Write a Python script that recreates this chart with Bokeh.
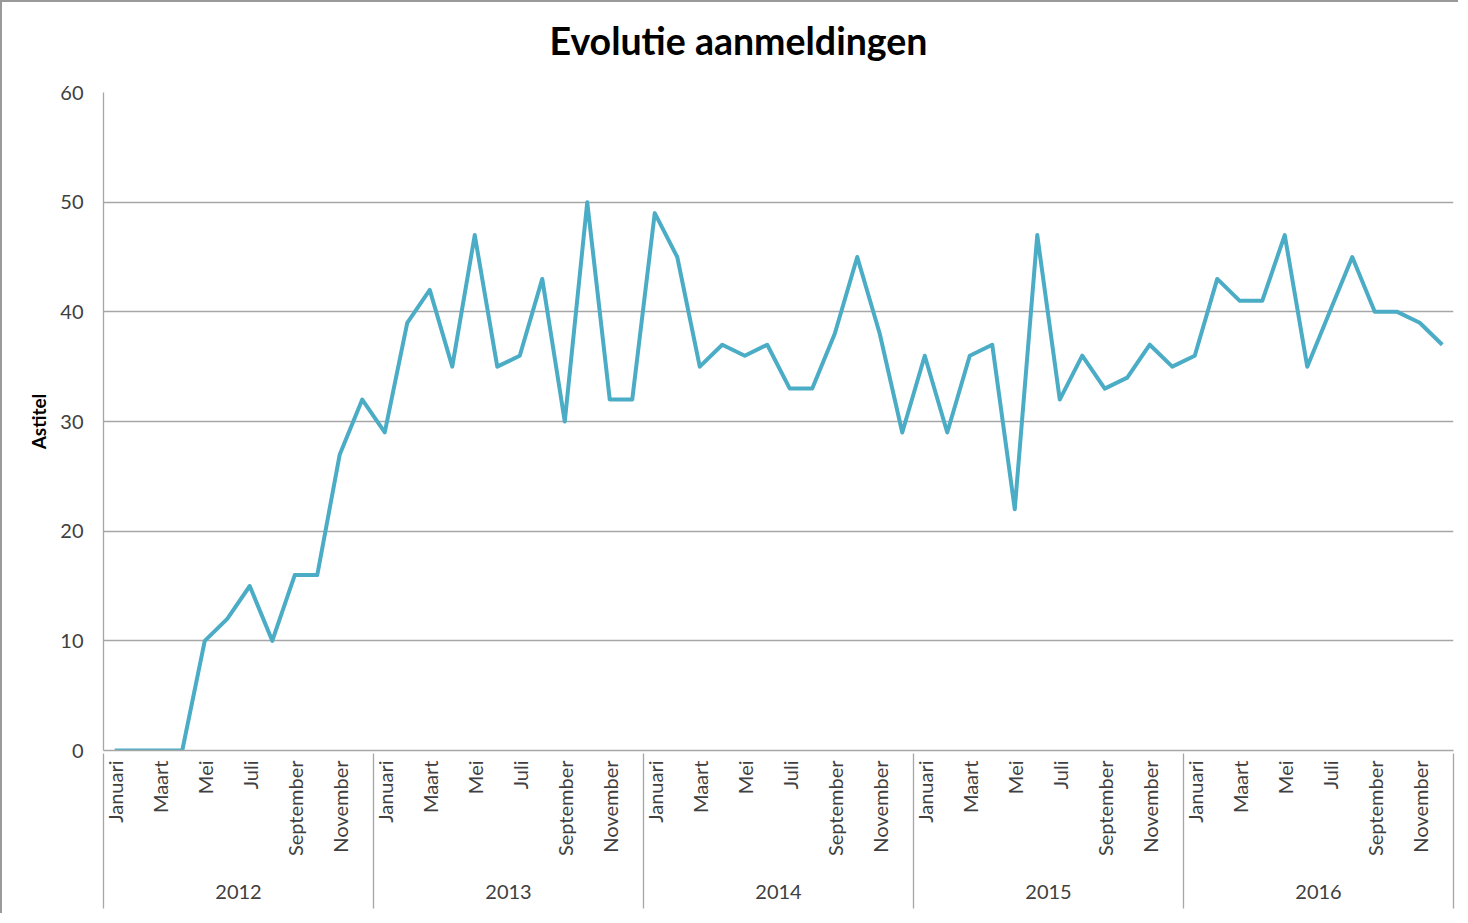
import math
from bokeh.plotting import figure
from bokeh.models import Range1d, FixedTicker, LinearAxis, Title
from bokeh.embed import file_html
from bokeh.resources import INLINE

# ---- data ----
years = ["2012", "2013", "2014", "2015", "2016"]
month_tick_labels = ["Januari", "Maart", "Mei", "Juli", "September", "November"]
values_2012 = [0, 0, 0, 0, 10, 12, 15, 10, 16, 16, 27, 32]
values_2013 = [29, 39, 42, 35, 47, 35, 36, 43, 30, 50, 32, 32]
values_2014 = [49, 45, 35, 37, 36, 37, 33, 33, 38, 45, 38, 29]
values_2015 = [36, 29, 36, 37, 22, 47, 32, 36, 33, 34, 37, 35]
values_2016 = [36, 43, 41, 41, 47, 35, 40, 45, 40, 40, 39, 37]
y_ticks = [0, 10, 20, 30, 40, 50, 60]
title_text = "Evolutie aanmeldingen"

values = values_2012 + values_2013 + values_2014 + values_2015 + values_2016
xs = list(range(len(values)))
n_years = len(years)

FONT = "Lato"
GRID = "#a6a6a6"
TXT = "#404040"

W, H = 1458, 913
BL, BR, BT, BB = 101, 7, 90, 165

p = figure(width=W, height=H, output_backend="svg", toolbar_location=None,
           x_range=Range1d(-0.5, len(values) - 0.5), y_range=Range1d(0, 60),
           x_axis_type=None, min_border_left=BL, min_border_right=BR,
           min_border_top=BT, min_border_bottom=BB)
p.styles = {"border-top": "2px solid #9a9a9a", "border-left": "2px solid #9a9a9a"}
p.outline_line_color = None
p.background_fill_color = "white"
p.border_fill_color = "white"

# invisible spacer axis above the frame (keeps the title away from the plot area)
spacer = LinearAxis(ticker=FixedTicker(ticks=[0]), major_label_overrides={0: ""})
spacer.axis_line_color = None
spacer.major_tick_line_color = None
spacer.minor_tick_line_color = None
spacer.major_tick_out = 30
spacer.major_tick_in = 0
spacer.minor_tick_out = 0
spacer.minor_tick_in = 0
spacer.major_label_standoff = 0
spacer.major_label_text_font_size = "1px"
spacer.major_label_text_alpha = 0
p.add_layout(spacer, "above")

# title
p.add_layout(Title(text=title_text, align="left", offset=446, standoff=0,
                   text_font=FONT, text_font_size="37.5px", text_font_style="bold",
                   text_color="#000000"), "above")

# y axis
ya = p.yaxis[0]
ya.ticker = FixedTicker(ticks=y_ticks)
ya.axis_line_color = GRID
ya.axis_line_width = 1.3
ya.major_tick_out = 0
ya.major_tick_in = 0
ya.minor_tick_out = 0
ya.minor_tick_in = 0
ya.major_label_standoff = 20
ya.major_label_text_font = FONT
ya.major_label_text_font_size = "20px"
ya.major_label_text_color = TXT
ya.axis_label = "Astitel"
ya.axis_label_text_font = FONT
ya.axis_label_text_font_size = "19px"
ya.axis_label_text_font_style = "bold"
ya.axis_label_text_color = "#000000"
ya.axis_label_standoff = 7

p.ygrid.ticker = FixedTicker(ticks=y_ticks)
p.ygrid.grid_line_color = GRID
p.ygrid.grid_line_width = 1.3
p.xgrid.grid_line_color = None

# month axis
month_ticks = [yi * 12 + mi * 2 for yi in range(n_years) for mi in range(len(month_tick_labels))]
month_over = {t: month_tick_labels[(t % 12) // 2] for t in month_ticks}
ma = LinearAxis(ticker=FixedTicker(ticks=month_ticks), major_label_overrides=month_over)
ma.major_label_orientation = math.pi / 2
ma.major_label_standoff = 10
ma.major_label_text_font = FONT
ma.major_label_text_font_size = "20px"
ma.major_label_text_color = TXT
ma.axis_line_color = GRID
ma.axis_line_width = 1.3
ma.major_tick_out = 0
ma.major_tick_in = 0
ma.minor_tick_out = 0
ma.minor_tick_in = 0
p.add_layout(ma, "below")

# year axis, with year separators drawn as its minor ticks
year_ticks = [yi * 12 + 5.5 for yi in range(n_years)]
year_over = {t: years[i] for i, t in enumerate(year_ticks)}
separators = [yi * 12 - 0.5 for yi in range(n_years + 1)]
ya2 = LinearAxis(ticker=FixedTicker(ticks=year_ticks, minor_ticks=separators),
                 major_label_overrides=year_over)
ya2.axis_line_color = None
ya2.major_tick_out = 0
ya2.major_tick_in = 0
ya2.minor_tick_in = 106
ya2.minor_tick_out = 49
ya2.minor_tick_line_color = GRID
ya2.minor_tick_line_width = 1.3
ya2.major_label_standoff = -24
ya2.major_label_text_font = FONT
ya2.major_label_text_font_size = "20px"
ya2.major_label_text_color = TXT
p.add_layout(ya2, "below")

p.line(xs, values, line_color="#4BACC6", line_width=4, line_join="round")

open("out.html", "w").write(file_html(p, INLINE))
